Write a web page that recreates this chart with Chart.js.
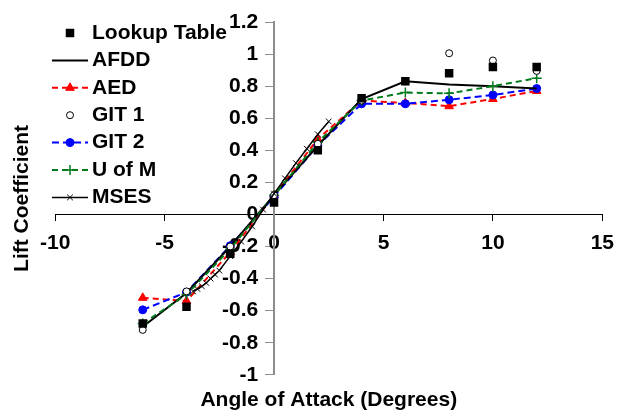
<!DOCTYPE html>
<html>
<head>
<meta charset="utf-8">
<script src="https://cdn.jsdelivr.net/npm/chart.js@4/dist/chart.umd.min.js"></script>
<style>
body{margin:0;background:#fff}
</style>
</head>
<body>
<canvas id="liftChart" width="624" height="417"></canvas>
<script>

// DATA

const aoa = [-6,-4,-2,0,2,4,6,8,10,12]
const lookupTable = [-0.68,-0.575,-0.245,0.075,0.40,0.725,0.83,0.88,0.92,0.92]
const afdd = [-0.70,-0.49,-0.20,0.12,0.43,0.72,0.83,0.81,0.80,0.785]
const aed = [-0.52,-0.54,-0.235,0.12,0.47,0.71,0.695,0.675,0.72,0.77]
const git1 = [-0.72,-0.48,-0.20,0.12,0.44,0.71,0.83,1.005,0.96,0.895]
const git2 = [-0.595,-0.485,-0.195,0.11,0.43,0.69,0.69,0.715,0.745,0.785]
const uofm = [-0.68,-0.50,-0.215,0.12,0.45,0.71,0.76,0.755,0.80,0.85]

const msesAoa = [-3.7,-3.5,-3.3,-3.1,-2.9,-2.7,-2.5,-2,-1.5,-1,-0.5,0,0.5,1,1.5,2,2.5]
const mses = [-0.48,-0.465,-0.448,-0.427,-0.40,-0.375,-0.35,-0.26,-0.17,-0.075,0.03,0.13,0.225,0.32,0.41,0.50,0.58]

const xTicks = [-10,-5,0,5,10,15]
const yTicks = [-1,-0.8,-0.6,-0.4,-0.2,0,0.2,0.4,0.6,0.8,1,1.2]

const font = "'Liberation Sans', Arial, sans-serif"

function pts(xs, ys){
return xs.map((x,i)=>({x:x,y:ys[i]}))
}

// LEGEND (drawn inside the plot, top left)

const insideLegend = {
id:'insideLegend',
afterDraw(chart){
const ctx = chart.ctx
const sets = chart.data.datasets
ctx.save()
ctx.font = 'bold 21px ' + font
ctx.textBaseline = 'middle'
ctx.textAlign = 'left'
for(let i=0;i<sets.length;i++){
const ds = sets[i]
const y = 33 + i*27.4
if(ds.showLine){
ctx.strokeStyle = ds.borderColor
ctx.lineWidth = ds.borderWidth
ctx.setLineDash(ds.borderDash || [])
ctx.beginPath()
ctx.moveTo(52,y)
ctx.lineTo(88,y)
ctx.stroke()
}
if(ds.pointRadius > 0){
ctx.setLineDash([])
ctx.fillStyle = ds.pointBackgroundColor
ctx.strokeStyle = ds.pointBorderColor
ctx.lineWidth = ds.pointBorderWidth
Chart.helpers.drawPoint(ctx,{pointStyle:ds.pointStyle,radius:ds.pointRadius,rotation:0,borderWidth:ds.pointBorderWidth},70,y)
}
ctx.fillStyle = '#000'
ctx.fillText(ds.label,92,y)
}
ctx.restore()
}
}

// CHART

const ctx = document.getElementById('liftChart')

new Chart(ctx, {

type:'scatter',

data:{
datasets:[
{
label:'Lookup Table',
data:pts(aoa,lookupTable),
showLine:false,
pointStyle:'rect',
pointRadius:6,
pointBackgroundColor:'#000',
pointBorderColor:'#000',
pointBorderWidth:0,
order:1
},
{
label:'AFDD',
data:pts(aoa,afdd),
showLine:true,
borderColor:'#000',
borderWidth:2,
pointRadius:0,
order:4
},
{
label:'AED',
data:pts(aoa,aed),
showLine:true,
borderColor:'#ff0000',
borderWidth:2,
borderDash:[6,4],
pointStyle:'triangle',
pointRadius:5,
pointBackgroundColor:'#ff0000',
pointBorderColor:'#ff0000',
pointBorderWidth:1,
order:6
},
{
label:'GIT 1',
data:pts(aoa,git1),
showLine:false,
pointStyle:'circle',
pointRadius:3.5,
pointBackgroundColor:'#fff',
pointBorderColor:'#000',
pointBorderWidth:1,
order:2
},
{
label:'GIT 2',
data:pts(aoa,git2),
showLine:true,
borderColor:'#0000ff',
borderWidth:2,
borderDash:[7,4],
pointStyle:'circle',
pointRadius:4,
pointBackgroundColor:'#0000ff',
pointBorderColor:'#0000ff',
pointBorderWidth:1,
order:5
},
{
label:'U of M',
data:pts(aoa,uofm),
showLine:true,
borderColor:'#007a1a',
borderWidth:2,
borderDash:[6,4],
pointStyle:'cross',
pointRadius:5,
pointBackgroundColor:'#007a1a',
pointBorderColor:'#007a1a',
pointBorderWidth:1.5,
order:3
},
{
label:'MSES',
data:pts(msesAoa,mses),
showLine:true,
borderColor:'#000',
borderWidth:1.5,
pointStyle:'crossRot',
pointRadius:4,
pointBackgroundColor:'#000',
pointBorderColor:'#000',
pointBorderWidth:1,
order:0
}
]
},

options:{
responsive:false,
animation:false,
devicePixelRatio:1,
layout:{padding:{top:22,right:19,left:0,bottom:0}},
elements:{line:{tension:0}},
plugins:{
legend:{display:false},
tooltip:{enabled:false},
title:{
display:true,
text:'Angle of Attack (Degrees)',
position:'bottom',
fullSize:false,
color:'#000',
font:{family:font,size:21,weight:'bold',lineHeight:1.2},
padding:{top:13,bottom:4}
},
subtitle:{
display:true,
text:'Lift Coefficient',
position:'left',
fullSize:false,
color:'#000',
font:{family:font,size:21,weight:'bold',lineHeight:1.2},
padding:{top:10,bottom:20}
}
},
scales:{
x:{
type:'linear',
min:-10,
max:15,
position:{y:0},
afterBuildTicks:(s)=>{s.ticks = xTicks.map(v=>({value:v}))},
grid:{drawOnChartArea:false,drawTicks:true,tickLength:6,color:'#000'},
border:{display:true,color:'#000',width:1},
ticks:{color:'#000',padding:10,maxRotation:0,font:{family:font,size:21,weight:'bold'}}
},
y:{
type:'linear',
min:-1,
max:1.2,
position:{x:0},
afterBuildTicks:(s)=>{s.ticks = yTicks.map(v=>({value:v}))},
grid:{drawOnChartArea:false,drawTicks:true,tickLength:8,color:'#8c8c8c'},
border:{display:true,color:'#8c8c8c',width:2},
ticks:{
color:'#000',
padding:8,
font:{family:font,size:21,weight:'bold'},
// labels sit right on a mid-chart axis, so pad them with spaces
callback:(v)=>String(Math.round(v*10)/10) + '  \u2009'
}
}
}
},

plugins:[insideLegend]

})

</script>
</body>
</html>
